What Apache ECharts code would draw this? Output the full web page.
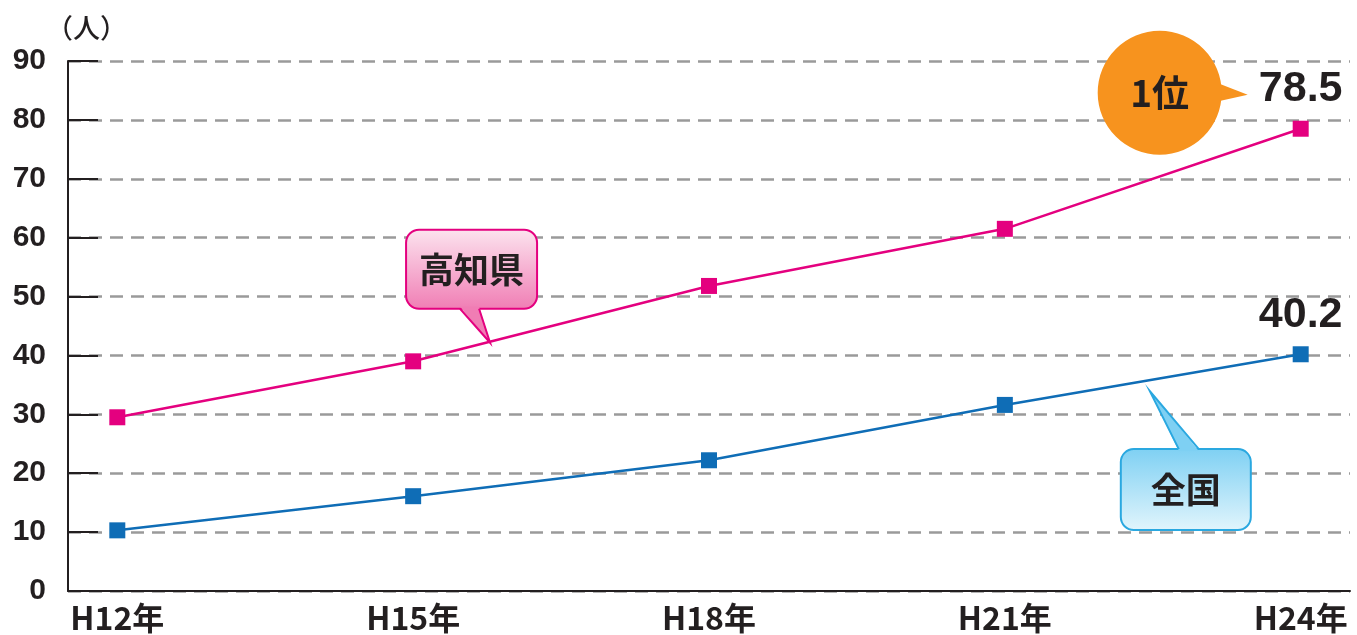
<!DOCTYPE html>
<html>
<head>
<meta charset="utf-8">
<script src="https://cdn.jsdelivr.net/npm/echarts@6/dist/echarts.min.js"></script>
<style>
  html, body { margin: 0; padding: 0; background: #fff; }
  #chart { width: 1357px; height: 635px; }
</style>
</head>
<body>
<div id="chart"></div>
<script>
// ==================== Data ====================
const years = ['H12年', 'H13年', 'H14年', 'H15年', 'H16年', 'H17年', 'H18年',
               'H19年', 'H20年', 'H21年', 'H22年', 'H23年', 'H24年'];
const surveyYears = ['H12年', 'H15年', 'H18年', 'H21年', 'H24年'];
const kochi = [29.5, 39.0, 51.8, 61.5, 78.5];     // 高知県
const zenkoku = [10.3, 16.1, 22.2, 31.6, 40.2];   // 全国
const yMin = 0, yMax = 90, yStep = 10;

const PINK = '#E4007F';
const BLUE = '#0F6DB6';
const INK = '#231F20';
const NUM_FONT = '"Liberation Sans", Arial, sans-serif';
const CJK_FONT = '"Noto Sans CJK JP", "Liberation Sans", sans-serif';

function seriesData(vals) {
    const last = vals.length - 1;
    return vals.map((v, i) => ({
        value: [surveyYears[i], v],
        label: { show: i === last }
    }));
}

// ==================== Chart ====================
const chart = echarts.init(document.getElementById('chart'));
chart.setOption({
    animation: false,
    grid: { left: 68, right: 7, top: 61, bottom: 44 },
    xAxis: {
        type: 'category',
        data: years,
        boundaryGap: true,
        axisLine: { lineStyle: { color: INK, width: 2 } },
        axisTick: { inside: true, length: 12, interval: 0, lineStyle: { color: INK, width: 2 } },
        axisLabel: {
            interval: 2, margin: 11, color: INK,
            fontSize: 32, fontWeight: 'bold', fontFamily: CJK_FONT
        },
        splitLine: { show: false }
    },
    yAxis: {
        type: 'value', min: yMin, max: yMax, interval: yStep,
        name: '（人）',
        nameLocation: 'end',
        nameGap: 20,
        nameTextStyle: { color: INK, fontSize: 27, fontWeight: 500, fontFamily: CJK_FONT, align: 'left', padding: [0, 0, 0, -22] },
        axisLine: { show: true, lineStyle: { color: INK, width: 2 } },
        axisTick: { show: true, inside: true, length: 30, lineStyle: { color: INK, width: 2 } },
        axisLabel: { margin: 22, color: INK, fontSize: 30, fontWeight: 'bold', fontFamily: NUM_FONT },
        splitLine: { lineStyle: { color: '#9A9A9A', width: 2.5, type: [13, 8] } }
    },
    series: [
        {
            name: '高知県', type: 'line',
            data: seriesData(kochi),
            symbol: 'rect', symbolSize: 16,
            lineStyle: { color: PINK, width: 2.5 },
            itemStyle: { color: PINK },
            label: {
                position: 'top', distance: 10, color: INK,
                fontSize: 43, fontWeight: 'bold', fontFamily: NUM_FONT,
                formatter: p => p.value[1].toFixed(1)
            },
            z: 3
        },
        {
            name: '全国', type: 'line',
            data: seriesData(zenkoku),
            symbol: 'rect', symbolSize: 16,
            lineStyle: { color: BLUE, width: 2.5 },
            itemStyle: { color: BLUE },
            label: {
                position: 'top', distance: 10, color: INK,
                fontSize: 43, fontWeight: 'bold', fontFamily: NUM_FONT,
                formatter: p => p.value[1].toFixed(1)
            },
            z: 3
        }
    ]
});

// ==================== Callouts ====================
function px(si, i, vals) {
    return chart.convertToPixel({ seriesIndex: si }, [surveyYears[i], vals[i]]);
}
function lerp(a, b, t) { return [a[0] + (b[0] - a[0]) * t, a[1] + (b[1] - a[1]) * t]; }

function bubble(tip, box, base, fillTop, fillBottom, tailColor, stroke, text, pointUp) {
    const [bx, by, bw, bh] = box;
    const edgeY = pointUp ? by : by + bh;
    const inset = pointUp ? 2 : -2;
    return {
        type: 'group', z: 20,
        children: [
            {
                type: 'rect', shape: { x: bx, y: by, width: bw, height: bh, r: 13 },
                style: {
                    fill: new echarts.graphic.LinearGradient(0, 0, 0, 1, [
                        { offset: 0, color: fillTop }, { offset: 1, color: fillBottom }
                    ]),
                    stroke: stroke, lineWidth: 2
                }
            },
            {
                type: 'polygon',
                shape: { points: [[base[0], edgeY + inset], tip, [base[1], edgeY + inset]] },
                style: { fill: tailColor }
            },
            {
                type: 'polyline',
                shape: { points: [[base[0], edgeY], tip, [base[1], edgeY]] },
                style: { stroke: stroke, lineWidth: 2, fill: null }
            },
            {
                type: 'text',
                style: {
                    text: text, x: bx + bw / 2, y: by + bh / 2,
                    align: 'center', verticalAlign: 'middle',
                    fill: INK, fontSize: 35, fontWeight: 'bold', fontFamily: CJK_FONT
                }
            }
        ]
    };
}

function drawCallouts() {
    const k15 = px(0, 1, kochi), k18 = px(0, 2, kochi), k24 = px(0, 4, kochi);
    const z21 = px(1, 3, zenkoku), z24 = px(1, 4, zenkoku);

    // 高知県 bubble, tail pointing down onto the pink line
    const kt = lerp(k15, k18, 0.26);
    const kTip = [kt[0], kt[1] + 1];
    const kochiBubble = bubble(
        kTip, [kTip[0] - 84, kTip[1] - 113, 131, 79], [kTip[0] - 30, kTip[0] - 11],
        '#FCE4EF', '#F07DB4', '#F07DB4', PINK, '高知県', false
    );

    // 全国 bubble, tail pointing up to the blue line
    const zt = lerp(z21, z24, 0.49);
    const zTip = [zt[0], zt[1] + 11];
    const zenBubble = bubble(
        zTip, [zTip[0] - 29, zTip[1] + 58, 130, 81], [zTip[0] + 29, zTip[0] + 49],
        '#7ED0F3', '#E2F5FC', '#7ED0F3', '#2AA8E0', '全国', true
    );

    // 1位 badge next to the last 高知県 value
    const c = [k24[0] - 141, k24[1] - 36];
    const rankBadge = {
        type: 'group', z: 20,
        children: [
            {
                type: 'polygon',
                shape: { points: [[c[0] + 52, c[1] - 12], [k24[0] - 53, k24[1] - 34], [c[0] + 52, c[1] + 10]] },
                style: { fill: '#F7931E' }
            },
            { type: 'circle', shape: { cx: c[0], cy: c[1], r: 62 }, style: { fill: '#F7931E' } },
            {
                type: 'text',
                style: {
                    text: '1位', x: c[0], y: c[1], align: 'center', verticalAlign: 'middle',
                    fill: INK, fontSize: 37, fontWeight: 'bold', fontFamily: CJK_FONT
                }
            }
        ]
    };

    chart.setOption({ graphic: [kochiBubble, zenBubble, rankBadge] });
}

drawCallouts();
</script>
</body>
</html>
